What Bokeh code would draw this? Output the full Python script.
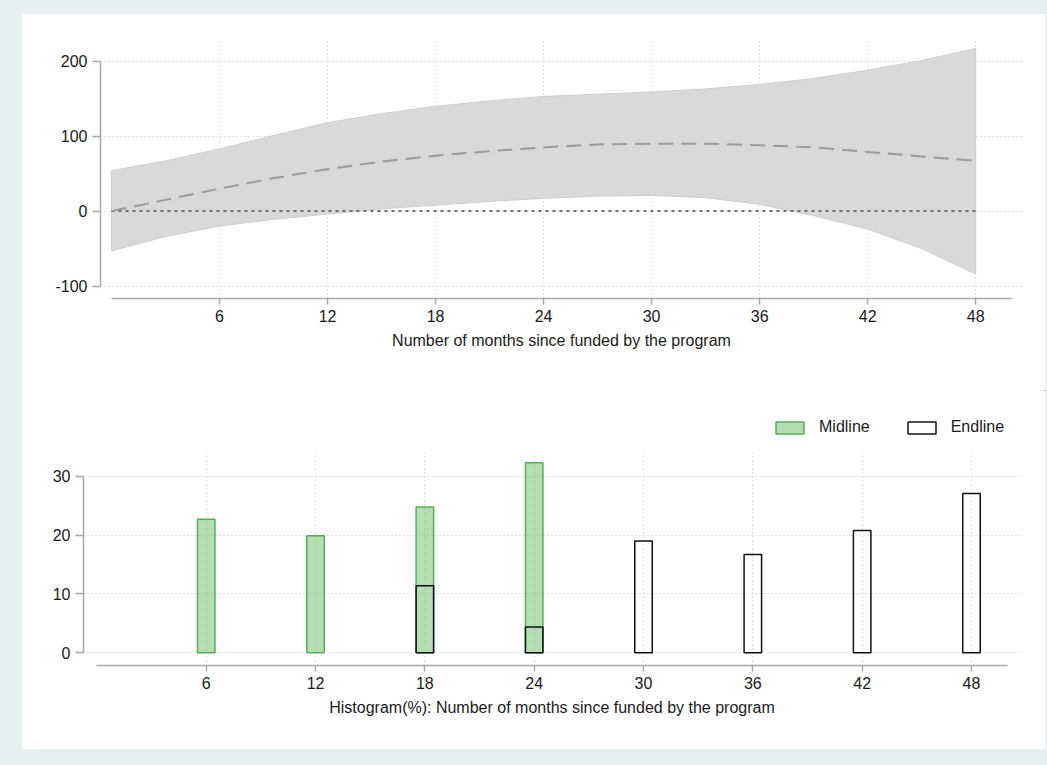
from bokeh.plotting import figure
from bokeh.models import Range1d, Legend, LegendItem, FixedTicker
from bokeh.layouts import column
from bokeh.embed import file_html
from bokeh.resources import INLINE

# ---- data: top panel (effect estimate with confidence band) ----
months = [0, 3, 6, 9, 12, 15, 18, 21, 24, 27, 30, 33, 36, 39, 42, 45, 48]
upper = [54, 67, 83, 101, 118, 130, 140, 147, 153, 156, 159, 163, 169, 177, 188, 201, 217]
lower = [-53, -34, -20, -11, -4, 3, 8, 13, 17, 20, 21, 18, 9, -6, -24, -50, -84]
mean = [0, 15, 30, 44, 56, 66, 74, 80, 85, 89, 90, 90, 88, 85, 79, 73, 67]
ref_x = [0, 48]
ref_y = [0, 0]
x_ticks = [6, 12, 18, 24, 30, 36, 42, 48]
y_ticks_top = [-100, 0, 100, 200]
x_label_top = "Number of months since funded by the program"

# ---- data: bottom panel (histogram, %) ----
mid_months = [6, 12, 18, 24]
mid_pct = [22.7, 19.9, 24.8, 32.3]
end_months = [18, 24, 30, 36, 42, 48]
end_pct = [11.4, 4.4, 19.0, 16.7, 20.8, 27.1]
y_ticks_bot = [0, 10, 20, 30]
x_label_bot = "Histogram(%): Number of months since funded by the program"
legend_labels = ["Midline", "Endline"]

FONT = "Liberation Sans"
BG = "#e8f0f3"
AXIS_C = "#a8a8a8"
GRID_C = "#c4c4c4"
MID_FILL = "#4daf4a"
MID_LINE = "#55b055"
END_LINE = "#111111"


def style(p, xticks, yticks, xlabel, ytick_out):
    p.xaxis.ticker = FixedTicker(ticks=xticks)
    p.yaxis.ticker = FixedTicker(ticks=yticks)
    p.yaxis.major_label_overrides = {t: str(t) for t in yticks}
    for ax in (p.xaxis[0], p.yaxis[0]):
        ax.axis_line_color = AXIS_C
        ax.axis_line_width = 1.5
        ax.major_tick_line_color = AXIS_C
        ax.major_tick_line_width = 1.5
        ax.minor_tick_line_color = None
        ax.major_tick_in = 0
        ax.major_label_text_font = FONT
        ax.major_label_text_font_size = "16px"
        ax.major_label_text_color = "#1a1a1a"
        ax.major_label_standoff = 5
    p.xaxis.major_tick_out = 6
    p.yaxis.major_tick_out = ytick_out
    p.xaxis.bounds = (0, 50)
    p.yaxis.bounds = (yticks[0], yticks[-1])
    p.xaxis.axis_label = xlabel
    p.xaxis.axis_label_text_font = FONT
    p.xaxis.axis_label_text_font_size = "16px"
    p.xaxis.axis_label_text_font_style = "normal"
    p.xaxis.axis_label_text_color = "#1a1a1a"
    p.xaxis.axis_label_standoff = 7
    p.xgrid.ticker = FixedTicker(ticks=xticks)
    p.ygrid.ticker = FixedTicker(ticks=yticks)
    for g in (p.xgrid[0], p.ygrid[0]):
        g.grid_line_color = GRID_C
        g.grid_line_dash = "1 3"
        g.grid_line_width = 1
    p.outline_line_color = None
    p.background_fill_color = "white"
    p.border_fill_color = "white"


# ---------------- top figure ----------------
p1 = figure(width=1023, height=376, output_backend="svg", toolbar_location=None,
            x_range=Range1d(-0.61, 50.6), y_range=Range1d(-116.6, 229.0),
            min_border_left=78, min_border_right=23, min_border_top=25,
            min_border_bottom=92)
style(p1, x_ticks, y_ticks_top, x_label_top, 8)

p1.patch(months + months[::-1], upper + lower[::-1],
         fill_color="#d9d9d9", line_color="#cdcdcd", line_width=1)
p1.line(ref_x, ref_y, line_color="#6e6e6e", line_width=2, line_dash="3 4")
p1.line(months, mean, line_color="#9a9a9a", line_width=2, line_dash="15 8")

# ---------------- legend strip ----------------
pl = figure(width=1023, height=59, output_backend="svg", toolbar_location=None,
            x_range=Range1d(-3, -2), y_range=Range1d(-3, -2),
            x_axis_location=None, y_axis_location=None,
            min_border_left=0, min_border_right=0, min_border_top=0,
            min_border_bottom=0)
pl.grid.visible = False
pl.outline_line_color = None
pl.background_fill_color = "white"
pl.border_fill_color = "white"
# legend-only renderers (their bars fall outside this strip's ranges)
lr_mid = pl.vbar(x=mid_months, top=mid_pct, width=0.96, fill_color=MID_FILL,
                 fill_alpha=0.42, line_color=MID_LINE, line_width=1.5)
lr_end = pl.vbar(x=end_months, top=end_pct, width=0.96, fill_color=None,
                 line_color=END_LINE, line_width=1.5)
legend = Legend(items=[LegendItem(label=legend_labels[0], renderers=[lr_mid]),
                       LegendItem(label=legend_labels[1], renderers=[lr_end])],
                orientation="horizontal", location=(750, 13),
                glyph_width=35, glyph_height=15, label_height=15,
                label_standoff=12, spacing=34, padding=0, margin=0,
                label_text_font=FONT, label_text_font_size="16px",
                label_text_color="#1a1a1a",
                border_line_color=None, background_fill_alpha=0)
pl.add_layout(legend, "center")

# ---------------- bottom figure ----------------
p2 = figure(width=1023, height=300, output_backend="svg", toolbar_location=None,
            x_range=Range1d(-0.735, 50.69), y_range=Range1d(-2.16, 34.57),
            min_border_left=61, min_border_right=25, min_border_top=0,
            min_border_bottom=84)
style(p2, x_ticks, y_ticks_bot, x_label_bot, 8)

p2.vbar(x=mid_months, top=mid_pct, bottom=0, width=0.96,
        fill_color=MID_FILL, fill_alpha=0.42, line_color=MID_LINE, line_width=1.5)
p2.vbar(x=end_months, top=end_pct, bottom=0, width=0.96,
        fill_color=None, line_color=END_LINE, line_width=1.5)

inner = column(column(p1), column(pl), column(p2),
               styles={"background-color": "white"})
inner.margin = (14, 2, 16, 22)
layout = column(inner, styles={"background-color": BG})
open("out.html", "w").write(file_html(layout, INLINE))
